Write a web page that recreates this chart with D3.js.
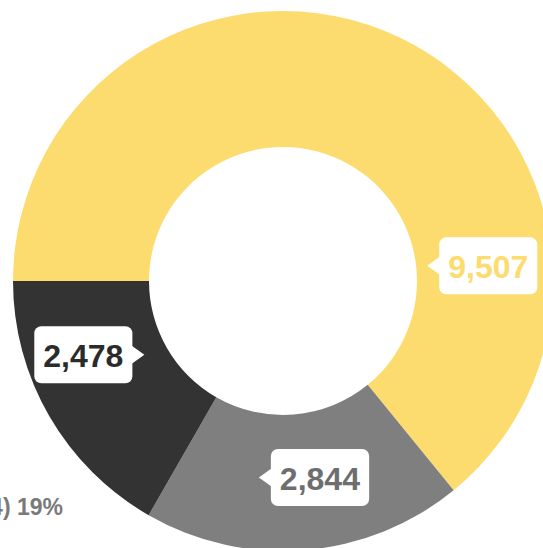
<!DOCTYPE html>
<html>
<head>
<meta charset="utf-8">
<script src="https://cdn.jsdelivr.net/npm/d3@7"></script>
<style>
  body { margin: 0; background: #fff; }
  svg { display: block; }
</style>
</head>
<body>
<svg></svg>
<script>
// slice data, in drawing order (clockwise from 9 o'clock)
const names = ['A', 'B', 'C'];
const values = [9507, 2844, 2478];
const colors = ['#fcdb6f', '#7f7f7f', '#333333'];
const textColors = ['#fcdb6f', '#6e6e6e', '#2b2b2b'];

// where each callout points (angle in degrees from 12 o'clock, radius) and which side the box is on
const tipAngle = [84, 187, 242];
const tipRadius = [145, 198, 157];
const boxSide = ['right', 'right', 'left'];

const legendText = '(2,844) 19%';

let width = 543;
let height = 548;
let cx = 283;
let cy = 281;
let outerR = 270;
let innerR = 134;

let svg = d3.select('svg')
    .attr('width', width)
    .attr('height', height);

const pie = d3.pie()
    .sort(null)
    .value(d => d)
    .startAngle(-Math.PI / 2)
    .endAngle(Math.PI * 1.5);

const arc = d3.arc()
    .innerRadius(innerR)
    .outerRadius(outerR);

let g = svg.append('g')
    .attr('transform', 'translate(' + cx + ',' + cy + ')');

g.selectAll('path')
    .data(pie(values))
    .enter()
    .append('path')
    .attr('d', arc)
    .attr('fill', (d, i) => colors[i]);

// callout labels
const fmt = d3.format(',');
const boxH = 57;
const padX = 9;
const gap = 12;

values.forEach((v, i) => {
    let tip = d3.pointRadial(tipAngle[i] * Math.PI / 180, tipRadius[i]);
    let lab = g.append('g').attr('transform', 'translate(' + tip[0] + ',' + tip[1] + ')');

    let box = lab.append('rect').attr('fill', '#fff').attr('rx', 7);
    let tri = lab.append('path').attr('fill', '#fff');
    let txt = lab.append('text')
        .text(fmt(v))
        .attr('fill', textColors[i])
        .attr('font-family', 'Liberation Sans, Arial, sans-serif')
        .attr('font-weight', 'bold')
        .attr('font-size', 32)
        .attr('dominant-baseline', 'central')
        .attr('y', 1);

    let w = txt.node().getBBox().width + padX * 2;
    let x0 = boxSide[i] === 'right' ? gap : -gap - w;
    box.attr('x', x0).attr('y', -boxH / 2).attr('width', w).attr('height', boxH);
    txt.attr('x', x0 + padX);

    let s = boxSide[i] === 'right' ? 1 : -1;
    tri.attr('d', 'M0,0 L' + (s * (gap + 2)) + ',-10 L' + (s * (gap + 2)) + ',10 Z');
});

// legend text, cut by the left edge as in the source image
svg.append('text')
    .text(legendText)
    .attr('x', 63)
    .attr('y', 515)
    .attr('text-anchor', 'end')
    .attr('fill', '#7a7a7a')
    .attr('font-family', 'Liberation Sans, Arial, sans-serif')
    .attr('font-weight', 'bold')
    .attr('font-size', 23);
</script>
</body>
</html>
